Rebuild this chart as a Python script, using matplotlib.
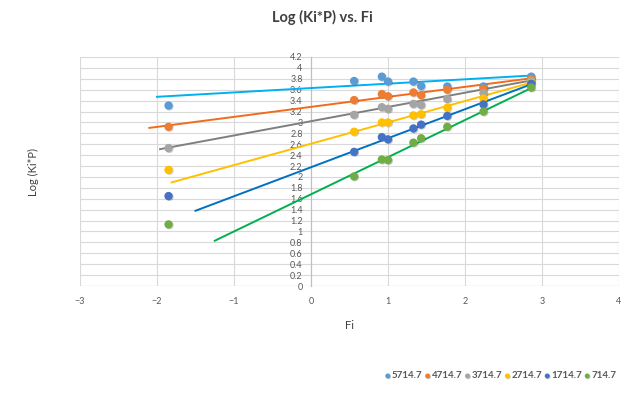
import matplotlib
matplotlib.use("Agg")
import matplotlib.pyplot as plt
import matplotlib.patheffects as pe
from matplotlib.ticker import FuncFormatter, MultipleLocator
import numpy as np

plt.rcParams['font.family'] = ['Lato', 'DejaVu Sans']

# data
fi = [-1.85, 0.56, 0.92, 1.0, 1.33, 1.43, 1.77, 2.24, 2.86]
series_names = ['5714.7', '4714.7', '3714.7', '2714.7', '1714.7', '714.7']
log_kip = {
    '5714.7': [3.31, 3.76, 3.84, 3.75, 3.75, 3.67, 3.66, 3.66, 3.84],
    '4714.7': [2.92, 3.41, 3.52, 3.48, 3.55, 3.50, 3.60, 3.62, 3.80],
    '3714.7': [2.53, 3.14, 3.28, 3.25, 3.34, 3.32, 3.43, 3.54, 3.77],
    '2714.7': [2.13, 2.83, 3.00, 3.00, 3.13, 3.15, 3.27, 3.44, 3.73],
    '1714.7': [1.65, 2.46, 2.73, 2.69, 2.89, 2.96, 3.12, 3.33, 3.71],
    '714.7':  [1.13, 2.01, 2.32, 2.31, 2.63, 2.71, 2.92, 3.20, 3.64],
}
# trendlines as drawn (start x, start y, end x, end y)
trend_x0 = [-2.0, -2.1, -1.96, -1.81, -1.50, -1.25]
trend_y0 = [3.47, 2.90, 2.51, 1.90, 1.38, 0.83]
trend_x1 = [2.86, 2.86, 2.86, 2.86, 2.86, 2.86]
trend_y1 = [3.86, 3.81, 3.77, 3.73, 3.70, 3.63]

marker_colors = ['#5B9BD5', '#ED7D31', '#A5A5A5', '#FFC000', '#4472C4', '#70AD47']
line_colors = ['#00B0F0', '#F26B1D', '#7F7F7F', '#FFC000', '#0070C0', '#00B050']

fig = plt.figure(figsize=(6.4, 3.93), dpi=100)
ax = fig.add_axes([80 / 640, 107 / 393, 539 / 640, 229 / 393])

for i, name in enumerate(series_names):
    ax.plot([trend_x0[i], trend_x1[i]], [trend_y0[i], trend_y1[i]],
            color=line_colors[i], lw=1.4, zorder=3)
    ax.scatter(fi, log_kip[name], s=36, color=marker_colors[i], zorder=4,
               label=name, linewidths=0,
               path_effects=[pe.SimplePatchShadow(offset=(0.6, -0.6), alpha=0.25),
                             pe.Normal()])

ax.set_xlim(-3, 4)
ax.set_ylim(0, 4.2)
ax.xaxis.set_major_locator(MultipleLocator(1))
ax.yaxis.set_major_locator(MultipleLocator(0.2))
ax.yaxis.set_major_formatter(FuncFormatter(lambda v, p: ('%.1f' % v).rstrip('0').rstrip('.')))
ax.grid(True, color='#D9D9D9', lw=0.8, zorder=0)
ax.set_axisbelow(True)

for s in ['top', 'right', 'bottom']:
    ax.spines[s].set_visible(False)
ax.spines['left'].set_position(('data', 0))
ax.spines['left'].set_color('#BFBFBF')
ax.spines['left'].set_linewidth(0.8)
ax.axhline(0, color='#BFBFBF', lw=0.8, zorder=1)
ax.tick_params(axis='both', length=0, labelsize=6.5, colors='#595959')
ax.tick_params(axis='x', pad=8)
ax.tick_params(axis='y', pad=6)

ax.set_xlabel('Fi', fontsize=8, color='#404040', labelpad=10)
fig.text(33 / 640, 1 - 172 / 393, 'Log (Ki*P)', rotation=90, fontsize=8,
         color='#404040', ha='center', va='center')
fig.text(0.503, 1 - 17 / 393, 'Log (Ki*P) vs. Fi', fontsize=10.5, fontweight='bold',
         color='#404040', ha='center', va='center')

leg = fig.legend(loc='center right', bbox_to_anchor=(620 / 640, 1 - 376 / 393), ncol=6,
                 frameon=False, prop={'size': 7, 'weight': 'bold'},
                 markerscale=0.6, handletextpad=0.15, columnspacing=0.3,
                 handlelength=0.5, borderaxespad=0)
for t in leg.get_texts():
    t.set_color('#595959')

fig.savefig('out.png', dpi=100)
